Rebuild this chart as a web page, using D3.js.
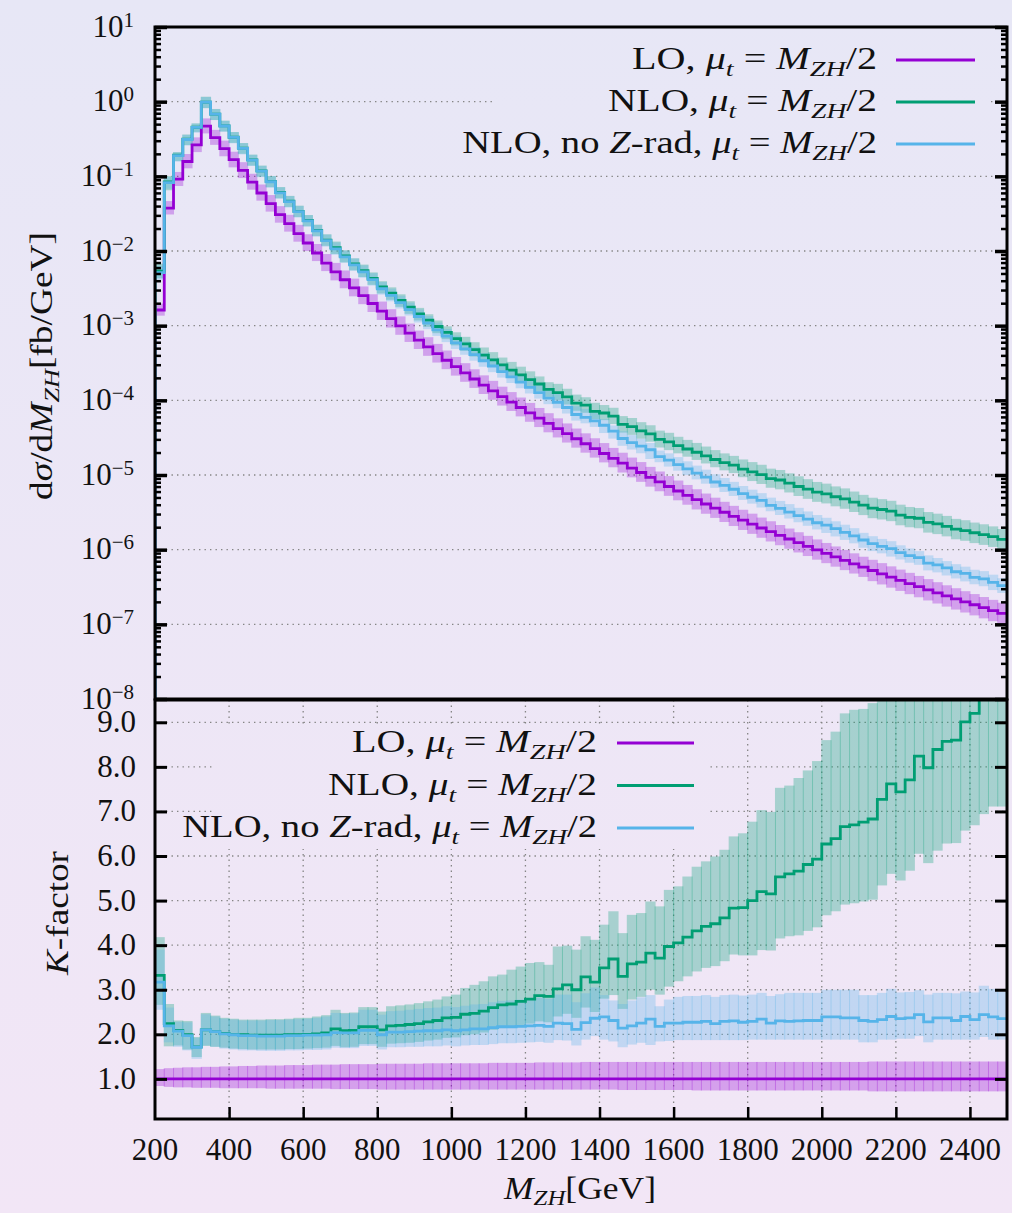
<!DOCTYPE html>
<html>
<head>
<meta charset="utf-8">
<script src="https://cdn.jsdelivr.net/npm/d3@7"></script>
<style>
  html, body { margin: 0; padding: 0; background: #ece7f6; }
  svg { display: block; }
  text { font-family: "Liberation Serif", "Times New Roman", serif; fill: #111; }
</style>
</head>
<body>
<svg id="chart" width="1012" height="1213"></svg>
<script>
// ---- binning of M_ZH (GeV): 25 GeV bins from 200 to 2500 ----
const binStart = 200;
const binWidth = 25;
const binLow = d3.range(200, 2500, 25);

// ---- LO differential cross section dσ/dM_ZH [fb/GeV], mu_t = M_ZH/2 ----
const lo = [
  1.62e-3, 3.76e-2, 9.16e-2, 0.158, 0.264, 0.470, 0.330, 0.235, 0.167, 0.120,
  0.0839, 0.0598, 0.0432, 0.0307, 0.0233, 0.0171, 0.0128, 9.40e-3, 6.90e-3, 5.25e-3,
  4.12e-3, 3.21e-3, 2.52e-3, 1.98e-3, 1.57e-3, 1.24e-3, 9.93e-4, 7.96e-4, 6.41e-4, 5.19e-4,
  4.22e-4, 3.44e-4, 2.82e-4, 2.33e-4, 1.93e-4, 1.60e-4, 1.34e-4, 1.12e-4, 9.48e-5, 8.02e-5,
  6.79e-5, 5.77e-5, 4.91e-5, 4.19e-5, 3.58e-5, 3.06e-5, 2.62e-5, 2.25e-5, 1.94e-5, 1.67e-5,
  1.44e-5, 1.24e-5, 1.08e-5, 9.31e-6, 8.07e-6, 7.01e-6, 6.11e-6, 5.33e-6, 4.67e-6, 4.09e-6,
  3.60e-6, 3.17e-6, 2.80e-6, 2.48e-6, 2.20e-6, 1.95e-6, 1.74e-6, 1.55e-6, 1.39e-6, 1.24e-6,
  1.11e-6, 9.93e-7, 8.91e-7, 8.00e-7, 7.19e-7, 6.47e-7, 5.83e-7, 5.26e-7, 4.75e-7, 4.30e-7,
  3.89e-7, 3.52e-7, 3.20e-7, 2.90e-7, 2.64e-7, 2.40e-7, 2.19e-7, 2.00e-7, 1.83e-7, 1.67e-7,
  1.53e-7, 1.40e-7
];

// ---- LO scale band, relative to LO central ----
const kLOlo = [
  0.84, 0.82, 0.81, 0.81, 0.80, 0.80, 0.80, 0.79, 0.79, 0.79,
  0.79, 0.79, 0.78, 0.78, 0.78, 0.78, 0.78, 0.78, 0.78, 0.77,
  0.77, 0.77, 0.77, 0.77, 0.76, 0.76, 0.76, 0.76, 0.76, 0.76,
  0.76, 0.76, 0.76, 0.76, 0.76, 0.76, 0.76, 0.76, 0.76, 0.76,
  0.76, 0.76, 0.76, 0.76, 0.76, 0.76, 0.76, 0.76, 0.76, 0.76,
  0.75, 0.75, 0.75, 0.75, 0.75, 0.75, 0.75, 0.75, 0.74, 0.74,
  0.74, 0.74, 0.74, 0.74, 0.74, 0.74, 0.74, 0.74, 0.74, 0.74,
  0.74, 0.74, 0.74, 0.74, 0.74, 0.74, 0.74, 0.72, 0.72, 0.72,
  0.72, 0.72, 0.72, 0.72, 0.72, 0.72, 0.72, 0.72, 0.72, 0.72,
  0.72, 0.72
];
const kLOhi = [
  1.22, 1.24, 1.25, 1.26, 1.26, 1.27, 1.27, 1.28, 1.28, 1.29,
  1.29, 1.30, 1.30, 1.30, 1.31, 1.31, 1.31, 1.32, 1.32, 1.32,
  1.33, 1.33, 1.33, 1.33, 1.34, 1.34, 1.34, 1.34, 1.34, 1.35,
  1.35, 1.35, 1.35, 1.35, 1.35, 1.35, 1.36, 1.36, 1.36, 1.36,
  1.36, 1.37, 1.37, 1.37, 1.37, 1.37, 1.38, 1.38, 1.38, 1.38,
  1.38, 1.38, 1.38, 1.38, 1.38, 1.38, 1.38, 1.38, 1.38, 1.38,
  1.38, 1.38, 1.38, 1.38, 1.38, 1.38, 1.38, 1.38, 1.38, 1.38,
  1.38, 1.38, 1.38, 1.38, 1.38, 1.38, 1.38, 1.39, 1.39, 1.39,
  1.39, 1.39, 1.39, 1.39, 1.39, 1.39, 1.39, 1.39, 1.39, 1.39,
  1.39, 1.39
];

// ---- NLO K-factor (NLO / LO central) with scale band ----
const kNLO = [
  3.32, 2.24, 2.09, 1.99, 1.72, 2.10, 2.06, 2.02, 2.00, 1.99,
  1.98, 1.98, 1.98, 1.98, 1.99, 1.99, 2.00, 2.01, 2.03, 2.12,
  2.08, 2.09, 2.17, 2.17, 2.10, 2.19, 2.20, 2.22, 2.24, 2.28,
  2.31, 2.37, 2.38, 2.45, 2.47, 2.52, 2.60, 2.66, 2.68, 2.74,
  2.79, 2.87, 2.85, 3.02, 3.11, 3.00, 3.29, 3.17, 3.49, 3.69,
  3.30, 3.58, 3.62, 3.82, 3.71, 3.97, 4.05, 4.18, 4.32, 4.42,
  4.48, 4.61, 4.83, 4.84, 5.00, 5.20, 5.15, 5.53, 5.60, 5.66,
  5.81, 5.93, 6.27, 6.39, 6.66, 6.70, 6.76, 6.83, 7.27, 7.62,
  7.44, 7.71, 8.24, 7.98, 8.39, 8.57, 8.60, 9.01, 9.20, 9.55,
  9.78, 9.80
];
const kNLOlo = [
  2.66, 1.73, 1.75, 1.66, 1.49, 1.74, 1.72, 1.70, 1.68, 1.67,
  1.66, 1.66, 1.66, 1.66, 1.67, 1.67, 1.68, 1.69, 1.70, 1.74,
  1.71, 1.72, 1.78, 1.78, 1.72, 1.79, 1.80, 1.81, 1.83, 1.86,
  1.88, 1.92, 1.93, 1.98, 2.00, 2.04, 2.10, 2.14, 2.16, 2.20,
  2.24, 2.29, 2.27, 2.40, 2.46, 2.37, 2.60, 2.50, 2.80, 2.88,
  2.57, 2.78, 2.84, 3.00, 2.89, 3.07, 3.19, 3.30, 3.41, 3.49,
  3.53, 3.64, 3.79, 3.77, 3.77, 3.89, 3.88, 4.15, 4.20, 4.22,
  4.32, 4.40, 4.67, 4.76, 4.91, 4.94, 4.98, 5.02, 5.34, 5.60,
  5.45, 5.67, 6.05, 5.84, 6.12, 6.28, 6.29, 6.57, 6.69, 6.94,
  7.11, 7.11
];
const kNLOhi = [
  4.18, 2.68, 2.31, 2.30, 1.94, 2.48, 2.42, 2.37, 2.35, 2.33,
  2.33, 2.33, 2.34, 2.34, 2.35, 2.37, 2.37, 2.40, 2.43, 2.55,
  2.48, 2.49, 2.61, 2.61, 2.51, 2.63, 2.65, 2.67, 2.70, 2.74,
  2.78, 2.85, 2.89, 3.04, 3.11, 3.19, 3.30, 3.34, 3.45, 3.52,
  3.60, 3.62, 3.56, 3.97, 3.99, 3.90, 4.20, 4.12, 4.46, 4.76,
  4.27, 4.68, 4.72, 4.98, 4.87, 5.24, 5.32, 5.54, 5.76, 5.88,
  5.99, 6.14, 6.44, 6.51, 6.77, 7.03, 6.99, 7.53, 7.58, 7.75,
  7.92, 8.13, 8.60, 8.79, 9.20, 9.28, 9.30, 9.43, 10.0, 10.5,
  10.3, 10.6, 11.3, 11.0, 11.5, 11.8, 11.8, 12.4, 12.6, 13.1,
  13.4, 13.5
];

// ---- NLO without Z radiation: K-factor with scale band ----
const kNoZ = [
  3.17, 2.19, 2.07, 1.97, 1.71, 2.10, 2.06, 2.01, 1.99, 1.97,
  1.97, 1.96, 1.96, 1.96, 1.97, 1.97, 1.98, 1.98, 1.99, 2.04,
  2.03, 2.03, 2.09, 2.09, 1.99, 2.05, 2.05, 2.06, 2.07, 2.08,
  2.08, 2.10, 2.08, 2.10, 2.12, 2.12, 2.15, 2.17, 2.17, 2.18,
  2.19, 2.20, 2.18, 2.25, 2.24, 2.11, 2.26, 2.36, 2.39, 2.31,
  2.14, 2.19, 2.25, 2.34, 2.18, 2.25, 2.25, 2.27, 2.27, 2.29,
  2.24, 2.29, 2.30, 2.27, 2.29, 2.34, 2.25, 2.30, 2.29, 2.30,
  2.31, 2.31, 2.39, 2.39, 2.37, 2.37, 2.31, 2.29, 2.33, 2.40,
  2.35, 2.37, 2.44, 2.28, 2.37, 2.37, 2.31, 2.40, 2.33, 2.44,
  2.39, 2.35
];
const kNoZlo = [
  2.55, 1.82, 1.72, 1.64, 1.45, 1.75, 1.72, 1.68, 1.66, 1.64,
  1.64, 1.63, 1.63, 1.63, 1.64, 1.64, 1.65, 1.65, 1.66, 1.70,
  1.69, 1.69, 1.74, 1.74, 1.66, 1.71, 1.71, 1.72, 1.72, 1.73,
  1.73, 1.75, 1.73, 1.75, 1.76, 1.76, 1.78, 1.80, 1.80, 1.81,
  1.82, 1.83, 1.81, 1.87, 1.86, 1.75, 1.88, 1.96, 1.88, 1.84,
  1.71, 1.77, 1.81, 1.76, 1.84, 1.85, 1.87, 1.87, 1.87, 1.87,
  1.87, 1.87, 1.87, 1.87, 1.88, 1.88, 1.88, 1.88, 1.88, 1.88,
  1.88, 1.88, 1.88, 1.88, 1.88, 1.88, 1.82, 1.82, 1.88, 1.88,
  1.90, 1.90, 1.96, 1.82, 1.88, 1.88, 1.88, 1.88, 1.88, 1.94,
  1.88, 1.88
];
const kNoZhi = [
  3.90, 2.60, 2.28, 2.27, 1.92, 2.45, 2.40, 2.35, 2.33, 2.31,
  2.31, 2.31, 2.32, 2.32, 2.33, 2.34, 2.35, 2.37, 2.40, 2.48,
  2.46, 2.47, 2.55, 2.55, 2.44, 2.52, 2.53, 2.55, 2.57, 2.59,
  2.60, 2.63, 2.61, 2.64, 2.67, 2.68, 2.72, 2.75, 2.76, 2.78,
  2.80, 2.82, 2.80, 2.89, 2.89, 2.72, 2.92, 3.05, 2.88, 2.76,
  2.68, 2.76, 2.83, 2.88, 2.63, 2.78, 2.84, 2.86, 2.86, 2.88,
  2.84, 2.88, 2.89, 2.87, 2.89, 2.93, 2.86, 2.90, 2.93, 2.93,
  2.93, 2.93, 3.00, 3.00, 3.00, 3.00, 2.88, 2.88, 2.93, 3.02,
  2.94, 2.95, 2.99, 2.89, 2.93, 2.93, 2.92, 2.96, 2.94, 3.09,
  3.02, 2.96
];

// ---- ticks ----
const xTicks = [200, 400, 600, 800, 1000, 1200, 1400, 1600, 1800, 2000, 2200, 2400];
const decadeExponents = [1, 0, -1, -2, -3, -4, -5, -6, -7, -8];
const kTicks = [1, 2, 3, 4, 5, 6, 7, 8, 9];
const kTickLabels = ["1.0", "2.0", "3.0", "4.0", "5.0", "6.0", "7.0", "8.0", "9.0"];

// ---- series styling ----
const colLO = "#9400d3", colNLO = "#009e73", colNoZ = "#56b4e9";

// cross sections of the two NLO curves (LO central times K-factor)
const times = (a, b) => a.map((v, i) => v * b[i]);
const xsNLO = times(lo, kNLO), xsNLOlo = times(lo, kNLOlo), xsNLOhi = times(lo, kNLOhi);
const xsNoZ = times(lo, kNoZ), xsNoZlo = times(lo, kNoZlo), xsNoZhi = times(lo, kNoZhi);
const xsLOlo = times(lo, kLOlo), xsLOhi = times(lo, kLOhi);
const kLO = lo.map(() => 1.0);

// ---- layout ----
const W = 1012, H = 1213;
const X0 = 155, X1 = 1007;
const T0 = 27, T1 = 699;     // upper panel
const B0 = 700, B1 = 1119;   // ratio panel

const x = d3.scaleLinear().domain([200, 2500]).range([X0, X1]);
const yTop = d3.scaleLog().domain([1e-8, 10]).range([T1, T0]);
const yBot = d3.scaleLinear().domain([0.1, 9.5]).range([B1, B0]);

const svg = d3.select("#chart");
const defs = svg.append("defs");
const bg = defs.append("linearGradient").attr("id", "bg")
  .attr("gradientUnits", "userSpaceOnUse")
  .attr("x1", 0).attr("y1", 0).attr("x2", 0).attr("y2", H);
bg.append("stop").attr("offset", 0).attr("stop-color", "#e7e7f6");
bg.append("stop").attr("offset", 1).attr("stop-color", "#f2e6f6");
svg.append("rect").attr("width", W).attr("height", H).attr("fill", "url(#bg)");

defs.append("clipPath").attr("id", "clipTop").append("rect")
  .attr("x", X0).attr("y", T0).attr("width", X1 - X0).attr("height", T1 - T0);
defs.append("clipPath").attr("id", "clipBot").append("rect")
  .attr("x", X0).attr("y", B0).attr("width", X1 - X0).attr("height", B1 - B0);

// ---- text with italics / sub- and superscripts ----
function richText(parent, segs, o) {
  const size = o.size || 31;
  let tf = `translate(${o.x},${o.y})`;
  if (o.rotate) tf += ` rotate(${o.rotate})`;
  const g = parent.append("g").attr("transform", tf);
  const t = g.append("text").attr("font-size", size).attr("text-anchor", o.anchor || "start");
  let shift = 0;
  segs.forEach(s => {
    const ts = t.append("tspan").text(s.t);
    if (s.i) ts.attr("font-style", "italic");
    let target = 0, fs = size;
    if (s.sub) { target = o.subDrop || size * 0.24; fs = size * 0.7; }
    if (s.sup) { target = -(o.supRaise || size * 0.33); fs = o.supSize || size * 0.68; }
    ts.attr("font-size", fs);
    if (target !== shift) { ts.attr("dy", target - shift); shift = target; }
  });
  if (o.width) {
    const w = t.node().getComputedTextLength();
    if (w > 0) t.attr("transform", `scale(${o.width / w},1)`);
  }
  return t;
}

// ---- dotted grid ----
const gridStyle = sel => sel.attr("stroke", "#858585").attr("stroke-width", 1.3)
  .attr("stroke-dasharray", "1.4,4.1").attr("fill", "none");

const grid = svg.append("g");
decadeExponents.filter(e => e <= 0 && e >= -7).forEach(e => {
  grid.append("line").attr("x1", X0).attr("x2", X1)
    .attr("y1", yTop(Math.pow(10, e))).attr("y2", yTop(Math.pow(10, e))).call(gridStyle);
});
kTicks.forEach(k => {
  grid.append("line").attr("x1", X0).attr("x2", X1)
    .attr("y1", yBot(k)).attr("y2", yBot(k)).call(gridStyle);
});
xTicks.filter(v => v > 200).forEach(v => {
  grid.append("line").attr("x1", x(v)).attr("x2", x(v))
    .attr("y1", B0).attr("y2", B1).call(gridStyle);
});

// legend backgrounds hide the grid behind the keys
svg.append("rect").attr("x", 492).attr("y", 34).attr("width", 498).attr("height", 132).attr("fill", "url(#bg)");
svg.append("rect").attr("x", 213).attr("y", 726).attr("width", 497).attr("height", 123).attr("fill", "url(#bg)");

// ---- data drawing helpers ----
function band(g, yScale, lowArr, highArr, color) {
  g.append("g").selectAll("rect").data(binLow).join("rect")
    .attr("x", m => x(m) - 0.5)
    .attr("width", m => x(m + binWidth) - x(m) + 1)
    .attr("y", (m, i) => yScale(highArr[i]))
    .attr("height", (m, i) => yScale(lowArr[i]) - yScale(highArr[i]))
    .attr("fill", color).attr("fill-opacity", 0.3);
}
function steps(g, yScale, vals, color, fromFloor) {
  const pts = binLow.map((m, i) => [m, vals[i]]);
  pts.push([binLow[binLow.length - 1] + binWidth, vals[vals.length - 1]]);
  if (fromFloor) pts.unshift([binStart, yScale.domain()[0]]);
  const line = d3.line().x(d => x(d[0])).y(d => yScale(d[1])).curve(d3.curveStepAfter);
  g.append("path").attr("d", line(pts)).attr("fill", "none")
    .attr("stroke", color).attr("stroke-width", 2.8);
}

// ---- upper panel: cross sections ----
const upper = svg.append("g").attr("clip-path", "url(#clipTop)");
band(upper, yTop, xsLOlo, xsLOhi, colLO);
band(upper, yTop, xsNLOlo, xsNLOhi, colNLO);
band(upper, yTop, xsNoZlo, xsNoZhi, colNoZ);
steps(upper, yTop, lo, colLO, true);
steps(upper, yTop, xsNLO, colNLO, true);
steps(upper, yTop, xsNoZ, colNoZ, true);

// ---- lower panel: K-factors ----
const lower = svg.append("g").attr("clip-path", "url(#clipBot)");
band(lower, yBot, kLOlo, kLOhi, colLO);
band(lower, yBot, kNLOlo, kNLOhi, colNLO);
band(lower, yBot, kNoZlo, kNoZhi, colNoZ);
steps(lower, yBot, kLO, colLO, false);
steps(lower, yBot, kNLO, colNLO, false);
steps(lower, yBot, kNoZ, colNoZ, false);

// ---- frames and ticks ----
const axes = svg.append("g");
const tickStyle = (w) => g => {
  g.select(".domain").remove();
  g.selectAll("line").attr("stroke", "#000").attr("stroke-width", w);
  g.selectAll("text").remove();
};
const majors = decadeExponents.map(e => Math.pow(10, e));
const minors = [];
decadeExponents.filter(e => e <= 0).forEach(e => {
  for (let m = 2; m <= 9; m++) minors.push(m * Math.pow(10, e));
});

axes.append("g").attr("transform", `translate(${X0},0)`)
  .call(d3.axisRight(yTop).tickValues(majors).tickSize(12)).call(tickStyle(3.5));
axes.append("g").attr("transform", `translate(${X0},0)`)
  .call(d3.axisRight(yTop).tickValues(minors).tickSize(6)).call(tickStyle(2.5));
axes.append("g").attr("transform", `translate(${X1},0)`)
  .call(d3.axisLeft(yTop).tickValues(majors).tickSize(12)).call(tickStyle(3.5));
axes.append("g").attr("transform", `translate(${X1},0)`)
  .call(d3.axisLeft(yTop).tickValues(minors).tickSize(6)).call(tickStyle(2.5));

axes.append("g").attr("transform", `translate(${X0},0)`)
  .call(d3.axisRight(yBot).tickValues(kTicks).tickSize(12)).call(tickStyle(3));
axes.append("g").attr("transform", `translate(${X1},0)`)
  .call(d3.axisLeft(yBot).tickValues(kTicks).tickSize(12)).call(tickStyle(3));
axes.append("g").attr("transform", `translate(0,${B1})`)
  .call(d3.axisTop(x).tickValues(xTicks.filter(v => v > 200)).tickSize(12)).call(tickStyle(2.5));

axes.append("rect").attr("x", X0).attr("y", T0).attr("width", X1 - X0).attr("height", T1 - T0)
  .attr("fill", "none").attr("stroke", "#000").attr("stroke-width", 3);
axes.append("rect").attr("x", X0).attr("y", B0).attr("width", X1 - X0).attr("height", B1 - B0)
  .attr("fill", "none").attr("stroke", "#000").attr("stroke-width", 3);

// ---- tick labels ----
const labels = svg.append("g");
decadeExponents.forEach(e => {
  const expo = e < 0 ? "\u2212" + (-e) : String(e);
  richText(labels, [{ t: "10" }, { t: expo, sup: 1 }],
    { x: 134, y: yTop(Math.pow(10, e)) + 9.5, anchor: "end", size: 31, supSize: 21, supRaise: 10 });
});
kTicks.forEach((k, i) => {
  labels.append("text").attr("x", 136).attr("y", yBot(k) + 10)
    .attr("text-anchor", "end").attr("font-size", 31).text(kTickLabels[i]);
});
xTicks.forEach(v => {
  labels.append("text").attr("x", x(v)).attr("y", 1160)
    .attr("text-anchor", "middle").attr("font-size", 31).text(v);
});

// ---- axis titles ----
richText(labels, [{ t: "M", i: 1 }, { t: "ZH", i: 1, sub: 1 }, { t: "[GeV]" }],
  { x: 580, y: 1199, anchor: "middle", width: 152, subDrop: 6 });
richText(labels, [{ t: "d" }, { t: "σ", i: 1 }, { t: "/d" }, { t: "M", i: 1 }, { t: "ZH", i: 1, sub: 1 }, { t: "[fb/GeV]" }],
  { x: 52, y: 366, rotate: -90, anchor: "middle", width: 268 });
richText(labels, [{ t: "K", i: 1 }, { t: "-factor" }],
  { x: 68, y: 913, rotate: -90, anchor: "middle", width: 124 });

// ---- legends ----
const legendNames = [
  [{ t: "LO, " }],
  [{ t: "NLO, " }],
  [{ t: "NLO, no " }, { t: "Z", i: 1 }, { t: "-rad, " }]
];
const scaleTail = [{ t: "μ", i: 1 }, { t: "t", i: 1, sub: 1 }, { t: " = " }, { t: "M", i: 1 }, { t: "ZH", i: 1, sub: 1 }, { t: "/2" }];
const legendColors = [colLO, colNLO, colNoZ];
const legendWidths = [245, 269, 415];

function legend(textRight, lineX0, lineX1, rowsY) {
  rowsY.forEach((yy, i) => {
    richText(labels, legendNames[i].concat(scaleTail),
      { x: textRight, y: yy + 9, anchor: "end", width: legendWidths[i] });
    labels.append("line").attr("x1", lineX0).attr("x2", lineX1)
      .attr("y1", yy).attr("y2", yy)
      .attr("stroke", legendColors[i]).attr("stroke-width", 3);
  });
}
legend(877, 896, 975, [60, 102, 144]);
legend(597, 617, 694, [743, 785.5, 828]);
</script>
</body>
</html>
